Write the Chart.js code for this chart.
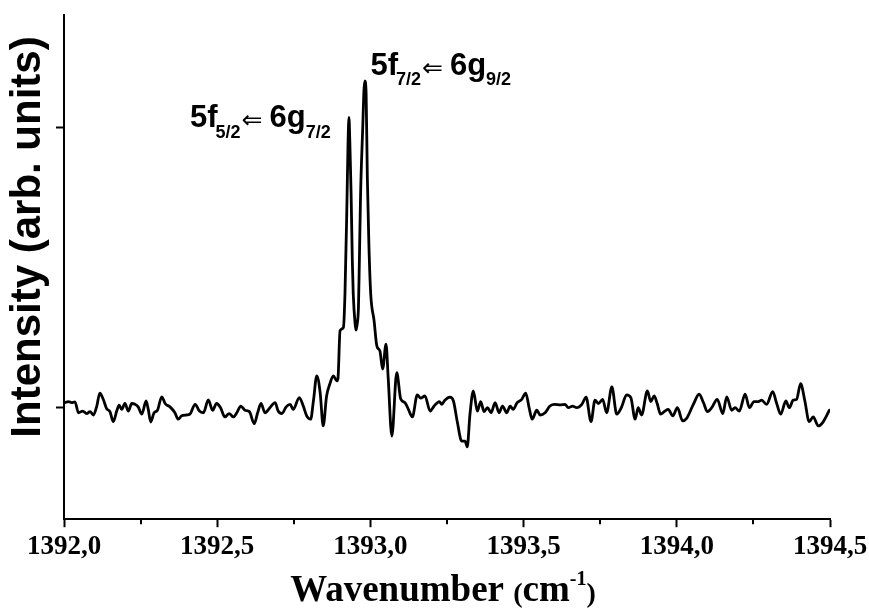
<!DOCTYPE html>
<html>
<head>
<meta charset="utf-8">
<script src="https://cdn.jsdelivr.net/npm/chart.js@4.4.1/dist/chart.umd.min.js"></script>
<style>
  html, body { margin: 0; padding: 0; background: #fff; }
  canvas { display: block; }
</style>
</head>
<body>
<canvas id="c" width="869" height="608"></canvas>
<script>
// ---- data ----
const wavenumber = [
  1392.003,1392.014,1392.025,1392.036,1392.047,1392.061,1392.074,1392.085,1392.096,1392.107,
  1392.117,1392.128,1392.139,1392.150,1392.161,1392.172,1392.180,1392.188,1392.199,1392.210,
  1392.221,1392.232,1392.242,1392.254,1392.268,1392.275,1392.283,1392.294,1392.305,1392.319,
  1392.330,1392.346,1392.362,1392.373,1392.384,1392.400,1392.411,1392.428,1392.442,1392.455,
  1392.471,1392.485,1392.498,1392.511,1392.525,1392.539,1392.553,1392.564,1392.577,1392.591,
  1392.605,1392.621,1392.632,1392.643,1392.656,1392.672,1392.689,1392.699,1392.711,1392.725,
  1392.738,1392.748,1392.768,1392.781,1392.792,1392.805,1392.814,1392.825,1392.836,1392.846,
  1392.857,1392.868,1392.879,1392.890,1392.894,1392.901,1392.912,1392.917,1392.923,1392.927,
  1392.930,1392.933,1392.937,1392.941,1392.944,1392.950,1392.953,1392.957,1392.961,1392.964,
  1392.968,1392.975,1392.979,1392.982,1392.986,1392.990,1392.995,1393.001,1393.012,1393.021,
  1393.031,1393.040,1393.051,1393.058,1393.070,1393.086,1393.099,1393.113,1393.124,1393.137,
  1393.153,1393.164,1393.178,1393.195,1393.208,1393.225,1393.233,1393.243,1393.260,1393.271,
  1393.284,1393.298,1393.309,1393.316,1393.325,1393.336,1393.349,1393.360,1393.371,1393.382,
  1393.394,1393.407,1393.420,1393.431,1393.445,1393.456,1393.466,1393.479,1393.494,1393.507,
  1393.518,1393.528,1393.543,1393.554,1393.570,1393.586,1393.602,1393.619,1393.635,1393.646,
  1393.660,1393.673,1393.690,1393.704,1393.720,1393.733,1393.744,1393.758,1393.771,1393.788,
  1393.804,1393.820,1393.836,1393.850,1393.864,1393.874,1393.885,1393.904,1393.915,1393.926,
  1393.936,1393.947,1393.961,1393.972,1393.987,1394.002,1394.019,1394.032,1394.054,1394.073,
  1394.087,1394.100,1394.114,1394.132,1394.150,1394.163,1394.179,1394.190,1394.204,1394.223,
  1394.237,1394.252,1394.266,1394.277,1394.293,1394.313,1394.326,1394.339,1394.356,1394.367,
  1394.380,1394.391,1394.404,1394.418,1394.432,1394.445,1394.462,1394.476,1394.498
];
const intensity = [
  0.016,0.020,0.016,0.019,-0.020,-0.014,-0.023,-0.016,-0.028,0.004,
  0.050,0.028,-0.005,-0.016,-0.052,-0.014,0.007,-0.008,0.013,-0.014,
  0.013,0.010,0.001,-0.025,0.022,-0.008,-0.053,-0.020,-0.011,0.037,
  0.013,0.001,-0.020,-0.043,-0.031,-0.028,-0.025,0.010,-0.014,-0.020,
  0.026,-0.011,0.013,-0.002,-0.035,-0.023,-0.035,-0.020,0.004,-0.011,
  -0.016,-0.059,-0.020,0.013,-0.020,-0.002,0.016,-0.014,-0.023,0.001,
  0.010,-0.008,0.034,0.004,-0.031,-0.043,0.022,0.112,0.052,-0.067,
  0.040,0.084,0.112,0.094,0.101,0.273,0.285,0.405,0.702,0.942,
  1.034,0.942,0.763,0.523,0.405,0.298,0.275,0.298,0.356,0.523,
  0.763,0.999,1.132,1.165,1.121,0.821,0.584,0.405,0.309,0.219,
  0.201,0.136,0.225,0.106,-0.103,0.123,0.029,0.016,-0.008,-0.035,
  0.044,0.032,0.040,-0.014,0.004,0.020,0.010,0.025,0.036,0.022,
  -0.055,-0.121,-0.121,-0.142,-0.025,0.058,-0.014,0.020,-0.016,-0.002,
  -0.020,0.016,-0.020,0.004,-0.020,0.004,-0.008,0.016,0.028,0.050,
  -0.002,-0.043,-0.011,-0.028,-0.020,0.004,0.010,0.008,0.010,-0.002,
  0.004,-0.002,0.010,0.036,-0.052,0.025,0.013,0.028,-0.020,0.072,
  -0.025,0.001,0.044,0.034,-0.043,-0.002,-0.028,0.058,0.020,0.040,
  0.013,-0.025,-0.014,-0.008,-0.031,-0.002,-0.049,-0.040,0.010,0.046,
  0.016,-0.016,-0.002,0.028,-0.023,0.037,-0.011,-0.002,-0.014,0.046,
  -0.002,0.020,0.020,0.025,0.010,0.055,0.013,-0.025,0.022,-0.002,
  0.025,0.028,0.084,0.022,-0.052,-0.035,-0.067,-0.055,-0.011
];
const xMajorTicks = [1392.0, 1392.5, 1393.0, 1393.5, 1394.0, 1394.5];
const xMinorTicks = [1392.25, 1392.75, 1393.25, 1393.75, 1394.25];
const yTicks = [0, 1];
const peakLabels = [
  { main1: '5f', sub1: '5/2', main2: '6g', sub2: '7/2' },
  { main1: '5f', sub1: '7/2', main2: '6g', sub2: '9/2' }
];
const xTitle = { main: 'Wavenumber ', paren1: '(', unit: 'cm', sup: '-1', paren2: ')' };
const yTitle = 'Intensity (arb. units)';

// ---- build ----
const points = wavenumber.map((w, i) => ({ x: w, y: intensity[i] }));
const SANS = '"Liberation Sans", Arial, sans-serif';
const SERIF = '"Liberation Serif", "Times New Roman", serif';

const decorPlugin = {
  id: 'decor',
  afterDraw(chart) {
    const ctx = chart.ctx;
    const xs = chart.scales.x, ys = chart.scales.y;
    const ca = chart.chartArea;
    ctx.save();
    // minor ticks on x axis
    ctx.strokeStyle = '#000';
    ctx.lineWidth = 2;
    xMinorTicks.forEach(v => {
      const px = Math.round(xs.getPixelForValue(v));
      ctx.beginPath();
      ctx.moveTo(px, ca.bottom);
      ctx.lineTo(px, ca.bottom + 5);
      ctx.stroke();
    });

    // peak labels (anchored in data coordinates)
    const anchors = [
      { x: 1392.411, y: 1.0 },
      { x: 1393.0, y: 1.186 }
    ];
    ctx.fillStyle = '#000';
    ctx.textBaseline = 'alphabetic';
    ctx.textAlign = 'left';
    peakLabels.forEach((lab, i) => {
      let x = xs.getPixelForValue(anchors[i].x);
      const b = ys.getPixelForValue(anchors[i].y);
      ctx.font = 'bold 31px ' + SANS;
      ctx.fillText(lab.main1, x, b);
      x += ctx.measureText(lab.main1).width - 2;
      ctx.font = 'bold 18px ' + SANS;
      ctx.fillText(lab.sub1, x, b + 10.5);
      x += ctx.measureText(lab.sub1).width + 1;
      ctx.font = '25px "DejaVu Sans", sans-serif';
      ctx.fillText('\u21D0', x, b + 1);
      x += ctx.measureText('\u21D0').width + 7;
      ctx.font = 'bold 31px ' + SANS;
      ctx.fillText(lab.main2, x, b);
      x += ctx.measureText(lab.main2).width + 0;
      ctx.font = 'bold 18px ' + SANS;
      ctx.fillText(lab.sub2, x, b + 10.5);
    });

    // y title
    ctx.save();
    ctx.translate(28, 237);
    ctx.rotate(-Math.PI / 2);
    ctx.font = 'bold 42px ' + SANS;
    ctx.textAlign = 'center';
    ctx.textBaseline = 'middle';
    ctx.fillText(yTitle, 0, 0);
    ctx.restore();

    // x title
    const fMain = 'bold 37px ' + SERIF;
    const fParen = 'bold 28px ' + SERIF;
    const fSup = 'bold 20px ' + SERIF;
    ctx.font = fMain; const w1 = ctx.measureText(xTitle.main).width; const w3 = ctx.measureText(xTitle.unit).width;
    ctx.font = fParen; const w2 = ctx.measureText(xTitle.paren1).width; const w5 = ctx.measureText(xTitle.paren2).width;
    ctx.font = fSup; const w4 = ctx.measureText(xTitle.sup).width;
    const total = w1 + w2 + w3 + w4 + w5;
    let tx = (ca.left + ca.right) / 2 - total / 2 - 4;
    const tb = 601;
    ctx.textAlign = 'left';
    ctx.textBaseline = 'alphabetic';
    ctx.font = fMain; ctx.fillText(xTitle.main, tx, tb); tx += w1;
    ctx.font = fParen; ctx.fillText(xTitle.paren1, tx, tb + 1); tx += w2;
    ctx.font = fMain; ctx.fillText(xTitle.unit, tx, tb); tx += w3;
    ctx.font = fSup; ctx.fillText(xTitle.sup, tx, tb - 16); tx += w4;
    ctx.font = fParen; ctx.fillText(xTitle.paren2, tx, tb + 1);
    ctx.restore();
  }
};

new Chart(document.getElementById('c'), {
  type: 'line',
  data: {
    datasets: [{
      data: points,
      borderColor: '#000',
      borderWidth: 2.8,
      borderJoinStyle: 'round',
      borderCapStyle: 'round',
      cubicInterpolationMode: 'monotone',
      pointRadius: 0,
      fill: false
    }]
  },
  options: {
    responsive: false,
    animation: false,
    events: [],
    layout: { padding: { left: 56, right: 39, top: 15, bottom: 41 } },
    plugins: { legend: { display: false }, tooltip: { enabled: false } },
    scales: {
      x: {
        type: 'linear',
        min: 1392,
        max: 1394.5,
        afterBuildTicks: s => { s.ticks = xMajorTicks.map(v => ({ value: v })); },
        ticks: {
          autoSkip: false,
          maxRotation: 0,
          padding: 1,
          color: '#000',
          font: { family: SERIF, size: 27, weight: 'bold', lineHeight: 1.4 },
          callback: v => v.toFixed(1).replace('.', ',')
        },
        grid: { drawOnChartArea: false, tickLength: 8, tickWidth: 2, tickColor: '#000' },
        border: { color: '#000', width: 2 }
      },
      y: {
        type: 'linear',
        min: -0.4,
        max: 1.4,
        afterBuildTicks: s => { s.ticks = yTicks.map(v => ({ value: v })); },
        ticks: { display: false },
        grid: { drawOnChartArea: false, tickLength: 8, tickWidth: 2, tickColor: '#000' },
        border: { color: '#000', width: 2 }
      }
    }
  },
  plugins: [decorPlugin]
});
</script>
</body>
</html>
